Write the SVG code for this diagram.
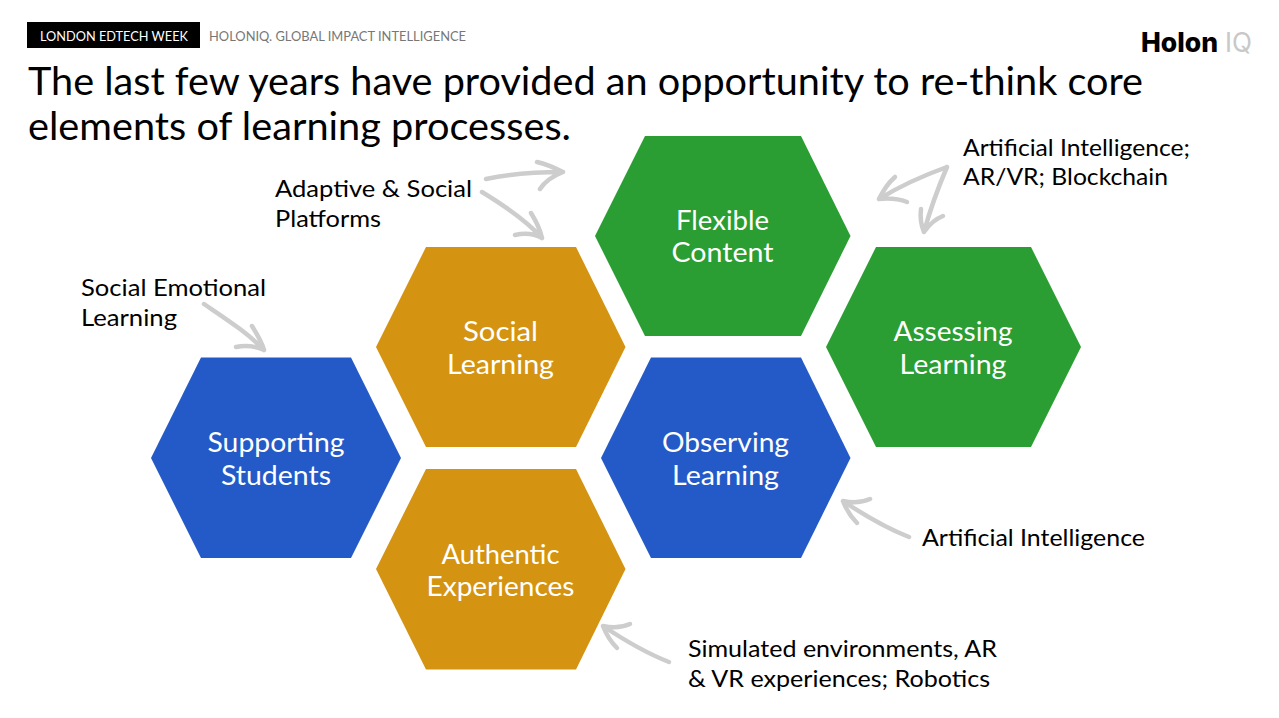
<svg xmlns="http://www.w3.org/2000/svg" width="1279" height="718" viewBox="0 0 1279 718">
<style>
text{font-family:"Lato","Liberation Sans",sans-serif}
.h{fill:#fff;font-size:27px;text-anchor:middle}
.l{fill:#000;font-size:24px}
.t{fill:#000;font-size:38px}
.a{fill:none;stroke:#cdcdcd;stroke-width:4.5;stroke-linecap:round;stroke-linejoin:round}
.b{fill:#235ac8}.o{fill:#d49310}.g{fill:#2a9d33}
</style>
<rect width="1279" height="718" fill="#fff"/>
<g id="header">
<rect x="27" y="22" width="173" height="26" fill="#000"/>
<text x="40" y="41" font-size="14" fill="#fff" textLength="148" lengthAdjust="spacingAndGlyphs">LONDON EDTECH WEEK</text>
<text x="209" y="41" font-size="14" fill="#777" textLength="257" lengthAdjust="spacingAndGlyphs">HOLONIQ. GLOBAL IMPACT INTELLIGENCE</text>
</g>
<g id="logo">
<text x="1141" y="52" style="font-family:Inter,'Liberation Sans',sans-serif" font-size="27" font-weight="800" fill="#000" textLength="77" lengthAdjust="spacingAndGlyphs">Holon</text>
<text x="1225" y="52" style="font-family:Inter,'Liberation Sans',sans-serif" font-size="27" font-weight="400" fill="#c8c8c8" textLength="27" lengthAdjust="spacingAndGlyphs">IQ</text>
</g>
<g id="title">
<text class="t" x="28" y="95" textLength="1115" lengthAdjust="spacingAndGlyphs">The last few years have provided an opportunity to re-think core</text>
<text class="t" x="28" y="140" textLength="543" lengthAdjust="spacingAndGlyphs">elements of learning processes.</text>
</g>
<g id="supporting-students">
<polygon class="b" points="151,458 201,357.5 351,357.5 401,458 351,558 201,558"/>
<text class="h" x="276" y="452" textLength="137" lengthAdjust="spacingAndGlyphs">Supporting</text>
<text class="h" x="276" y="485" textLength="110" lengthAdjust="spacingAndGlyphs">Students</text>
</g>
<g id="social-learning">
<polygon class="o" points="376,347 426,247 576,247 625.5,347 576,447 426,447"/>
<text class="h" x="500.500" y="341" textLength="75" lengthAdjust="spacingAndGlyphs">Social</text>
<text class="h" x="500.500" y="374" textLength="107" lengthAdjust="spacingAndGlyphs">Learning</text>
</g>
<g id="authentic-experiences">
<polygon class="o" points="376,569 426,469 576,469 625.5,569 576,669.500 426,669.500"/>
<text class="h" x="500.500" y="564" textLength="118" lengthAdjust="spacingAndGlyphs">Authentic</text>
<text class="h" x="500.500" y="596" textLength="148" lengthAdjust="spacingAndGlyphs">Experiences</text>
</g>
<g id="observing-learning">
<polygon class="b" points="601,458 651,357.5 801,357.5 850.5,458 801,558 651,558"/>
<text class="h" x="725.500" y="452" textLength="127" lengthAdjust="spacingAndGlyphs">Observing</text>
<text class="h" x="725.500" y="485" textLength="107" lengthAdjust="spacingAndGlyphs">Learning</text>
</g>
<g id="flexible-content">
<polygon class="g" points="595,236 645,136 801,136 850.5,236 801,336 645,336"/>
<text class="h" x="722.500" y="230" textLength="93" lengthAdjust="spacingAndGlyphs">Flexible</text>
<text class="h" x="722.500" y="262" textLength="102" lengthAdjust="spacingAndGlyphs">Content</text>
</g>
<g id="assessing-learning">
<polygon class="g" points="826,347 876,247 1031,247 1081,347 1031,447 876,447"/>
<text class="h" x="953" y="341" textLength="119" lengthAdjust="spacingAndGlyphs">Assessing</text>
<text class="h" x="953" y="374" textLength="107" lengthAdjust="spacingAndGlyphs">Learning</text>
</g>
<g id="labels">
<text class="l" x="81" y="296" textLength="185" lengthAdjust="spacingAndGlyphs">Social Emotional</text>
<text class="l" x="81" y="326" textLength="96" lengthAdjust="spacingAndGlyphs">Learning</text>
<text class="l" x="275" y="197" textLength="197" lengthAdjust="spacingAndGlyphs">Adaptive &amp; Social</text>
<text class="l" x="275" y="227" textLength="106" lengthAdjust="spacingAndGlyphs">Platforms</text>
<text class="l" x="963" y="156" textLength="227" lengthAdjust="spacingAndGlyphs">Artificial Intelligence;</text>
<text class="l" x="963" y="185" textLength="205" lengthAdjust="spacingAndGlyphs">AR/VR; Blockchain</text>
<text class="l" x="922" y="546" textLength="223" lengthAdjust="spacingAndGlyphs">Artificial Intelligence</text>
<text class="l" x="688" y="657" textLength="309" lengthAdjust="spacingAndGlyphs">Simulated environments, AR</text>
<text class="l" x="688" y="687" textLength="302" lengthAdjust="spacingAndGlyphs">&amp; VR experiences; Robotics</text>
</g>
<g id="connectors">
<path class="a" d="M486 179C510 174 535 172 563 172M537 162C546 164 555 168 563 172C553 176 545 181 540 189"/>
<path class="a" d="M482 192C505 206 526 220 542 238M531 213C536 221 540 229 542 238C533 233 524 233 515 235"/>
<path class="a" d="M947 167C922 176 900 186 879 199M895 177C888 183 883 191 879 199C889 198 899 199 907 202"/>
<path class="a" d="M947 167C938 188 930 210 924 232M921 209C920 217 921 225 924 232C929 225 935 219 943 216"/>
<path class="a" d="M204 304C226 319 248 333 264 350M252 326C257 334 262 342 264 350C255 346 245 345 236 347"/>
<path class="a" d="M909 537C886 528 864 515 843 501M870 499C861 503 852 503 843 501C846 509 851 517 857 523"/>
<path class="a" d="M669 662C646 653 624 640 603 626M630 624C621 628 612 628 603 626C606 634 611 642 617 648"/>
</g>
</svg>
